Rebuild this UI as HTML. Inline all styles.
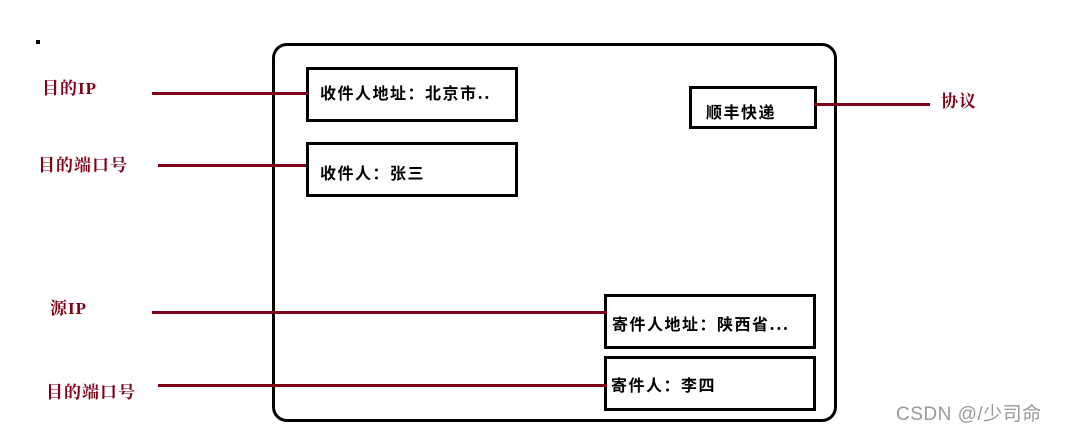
<!DOCTYPE html>
<html><head><meta charset="utf-8"><style>
body{margin:0;width:1066px;height:432px;background:#fff;position:relative;overflow:hidden;font-family:"Liberation Serif","Noto Serif CJK SC","Noto Sans CJK SC",serif}
div{position:absolute;box-sizing:border-box}
.b{border:3px solid #000;background:#fff;font-size:16px;font-weight:bold;color:#000;white-space:nowrap;font-family:"Noto Sans CJK SC",sans-serif;letter-spacing:1.5px;line-height:18px}
.l{position:absolute;height:3px;background:#7f0019}
.t{color:#7f0019;font-size:17px;font-weight:bold;white-space:nowrap;line-height:18px;letter-spacing:1px}
</style></head><body>
<div style="left:36px;top:40px;width:4px;height:4px;background:#000"></div>
<div style="left:272px;top:43px;width:565px;height:379px;border:3px solid #000;border-radius:15px"></div>
<div class="b" style="left:306px;top:67px;width:212px;height:55px;padding:13px 0 0 11px">收件人地址：北京市..</div>
<div class="b" style="left:306px;top:142px;width:212px;height:55px;padding:18px 0 0 11px">收件人：张三</div>
<div class="b" style="left:689px;top:86px;width:128px;height:43px;padding:13px 0 0 14px">顺丰快递</div>
<div class="b" style="left:604px;top:294px;width:212px;height:55px;padding:17px 0 0 5px">寄件人地址：陕西省...</div>
<div class="b" style="left:604px;top:356px;width:212px;height:55px;padding:16px 0 0 4px">寄件人：李四</div>
<div class="l" style="left:152px;top:92px;width:156px"></div>
<div class="l" style="left:158px;top:164px;width:148px"></div>
<div class="l" style="left:814px;top:103px;width:116px"></div>
<div class="l" style="left:152px;top:311px;width:455px"></div>
<div class="l" style="left:158px;top:384px;width:449px"></div>
<div class="t" style="left:42px;top:80px">目的IP</div>
<div class="t" style="left:38px;top:157px">目的端口号</div>
<div class="t" style="left:941px;top:93px">协议</div>
<div class="t" style="left:50px;top:300px">源IP</div>
<div class="t" style="left:46px;top:384px">目的端口号</div>
<div style="left:896px;top:399px;font-family:'Liberation Sans','Noto Sans CJK SC',sans-serif;font-size:19px;letter-spacing:0.5px;color:#999;white-space:nowrap">CSDN @/少司命</div>
</body></html>
